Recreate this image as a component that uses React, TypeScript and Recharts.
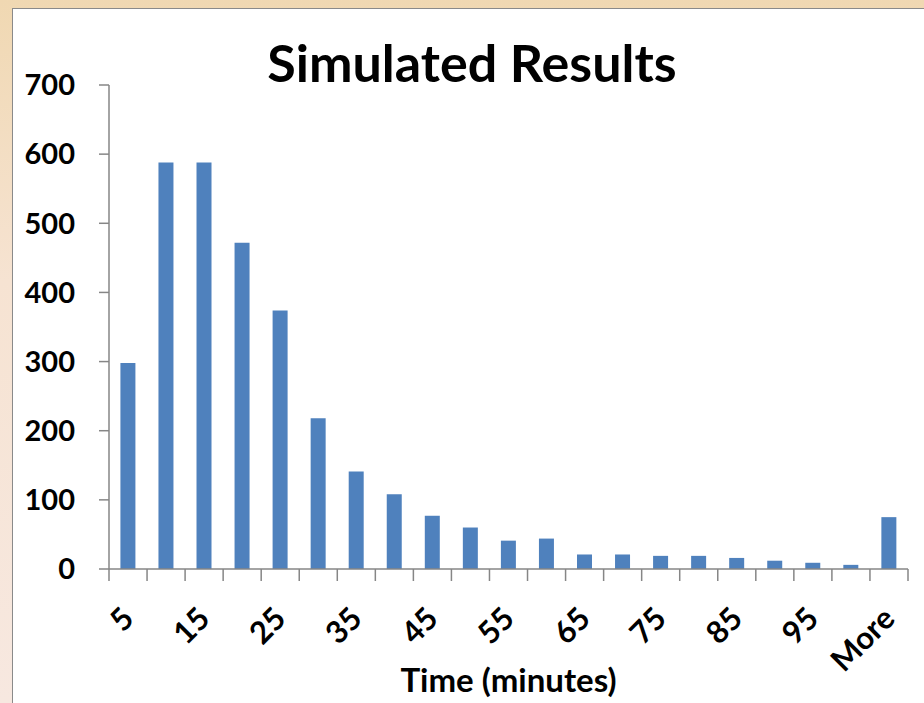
import { BarChart, Bar, XAxis, YAxis } from "recharts";

const bins = [
  "5", "10", "15", "20", "25", "30", "35", "40", "45", "50", "55",
  "60", "65", "70", "75", "80", "85", "90", "95", "100", "More",
];
const counts = [
  298, 588, 588, 472, 374, 218, 141, 108, 77, 60, 41,
  44, 21, 21, 19, 19, 16, 12, 9, 6, 75,
];
const yTicks = [0, 100, 200, 300, 400, 500, 600, 700];

const W = 924;
const H = 703;
const M = { top: 85, right: 16, bottom: 0, left: 0 };
const Y_W = 109;
const X_H = 134;
const BAND = (W - M.left - M.right - Y_W) / bins.length;

const AXIS = "#868686";
const BAR = "#4F81BD";
const FONT = "Lato, 'Open Sans', sans-serif";

const data = bins.map((bin, i) => ({ bin, count: counts[i] }));

function BinTick(props: any) {
  const { x, y, index, payload } = props;
  const half = BAND / 2;
  const last = index === bins.length - 1;
  return (
    <g>
      <line x1={x - half} x2={x - half} y1={y} y2={y + 12} stroke={AXIS} strokeWidth={1.5} />
      {last && (
        <line x1={x + half} x2={x + half} y1={y} y2={y + 12} stroke={AXIS} strokeWidth={1.5} />
      )}
      {index % 2 === 0 && (
        <text
          transform={`translate(${x + 2},${y + 46}) rotate(-45)`}
          textAnchor="end"
          dominantBaseline="middle"
          fontSize={31}
          fontWeight={700}
          fill="#000"
          fontFamily={FONT}
        >
          {payload.value}
        </text>
      )}
    </g>
  );
}

export default function App() {
  return (
    <div
      style={{
        position: "absolute",
        left: 0,
        top: 0,
        width: W,
        height: H,
        overflow: "hidden",
        background: "linear-gradient(to bottom, #f0d8b2 0%, #f6e3d2 40%, #f7e8e0 100%)",
        fontFamily: FONT,
      }}
    >
      <div
        style={{
          position: "absolute",
          left: 12,
          top: 8,
          width: W,
          height: H,
          background: "#fff",
          borderLeft: "1.5px solid #8a8a8a",
          borderTop: "1.5px solid #8a8a8a",
        }}
      />
      <div style={{ position: "absolute", left: 0, top: 0 }}>
        <BarChart width={W} height={H} data={data} margin={M} barCategoryGap="30%">
          <XAxis
            dataKey="bin"
            height={X_H}
            interval={0}
            tickSize={0}
            tickMargin={0}
            tick={<BinTick />}
            axisLine={{ stroke: AXIS, strokeWidth: 1.5 }}
            label={{
              value: "Time (minutes)",
              position: "insideBottom",
              offset: 11,
              fill: "#000",
              fontSize: 33,
              fontWeight: 700,
              fontFamily: FONT,
            }}
          />
          <YAxis
            width={Y_W}
            domain={[0, 700]}
            ticks={yTicks}
            interval={0}
            tickSize={10}
            tickMargin={24}
            axisLine={{ stroke: AXIS, strokeWidth: 1.5 }}
            tickLine={{ stroke: AXIS, strokeWidth: 1.5 }}
            tick={{ fill: "#000", fontSize: 29, fontWeight: 700, fontFamily: FONT }}
          />
          <Bar dataKey="count" fill={BAR} isAnimationActive={false} />
        </BarChart>
      </div>
      <svg
        width={W}
        height={120}
        style={{ position: "absolute", left: 0, top: 0, pointerEvents: "none" }}
      >
        <text
          x={472}
          y={82}
          textAnchor="middle"
          fontSize={52}
          fontWeight={700}
          fill="#000"
          fontFamily={FONT}
        >
          Simulated Results
        </text>
      </svg>
    </div>
  );
}
